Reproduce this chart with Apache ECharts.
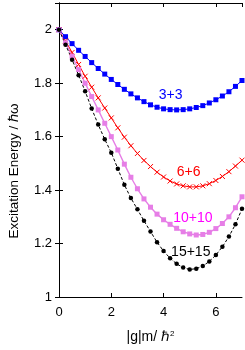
<!DOCTYPE html>
<html><head><meta charset="utf-8">
<script src="https://cdn.jsdelivr.net/npm/echarts@6/dist/echarts.min.js"></script>
<style>html,body{margin:0;padding:0;background:#fff}#c{width:245px;height:350px}</style>
</head><body><div id="c"></div>
<script>
var gValues = [0,0.25,0.5,0.75,1,1.25,1.5,1.75,2,2.25,2.5,2.75,3,3.25,3.5,3.75,4,4.25,4.5,4.75,5,5.25,5.5,5.75,6,6.25,6.5,6.75,7];
var e3 = [2.000,1.974,1.948,1.923,1.900,1.877,1.855,1.834,1.814,1.795,1.777,1.760,1.745,1.731,1.719,1.710,1.704,1.701,1.700,1.701,1.704,1.709,1.716,1.726,1.738,1.752,1.768,1.788,1.810];
var e6 = [2.000,1.958,1.915,1.870,1.826,1.785,1.745,1.707,1.670,1.633,1.598,1.566,1.537,1.511,1.488,1.467,1.449,1.434,1.423,1.416,1.412,1.412,1.416,1.424,1.436,1.451,1.469,1.490,1.512];
var e10 = [2.000,1.951,1.901,1.851,1.800,1.750,1.700,1.650,1.600,1.550,1.497,1.448,1.405,1.367,1.336,1.310,1.289,1.272,1.257,1.244,1.236,1.232,1.234,1.242,1.256,1.275,1.300,1.334,1.375];
var e15 = [2.000,1.944,1.888,1.830,1.770,1.705,1.645,1.590,1.540,1.480,1.420,1.370,1.328,1.285,1.245,1.205,1.172,1.145,1.124,1.110,1.103,1.106,1.116,1.133,1.157,1.188,1.226,1.272,1.330];
var seriesNames = ['3+3','6+6','10+10','15+15'];
var xTicks = [0,2,4,6];
var yTicks = [1,1.2,1.4,1.6,1.8,2];

function pairs(ys){ return gValues.map(function(x,i){ return [x, ys[i]]; }); }

var chart = echarts.init(document.getElementById('c'), null, {renderer:'canvas'});
var font = 'Liberation Sans, Arial, Helvetica, sans-serif';
var axisCommon = {
  axisLine:{show:true, lineStyle:{color:'#000', width:1}},
  axisTick:{show:true, inside:true, length:4, lineStyle:{color:'#000'}},
  splitLine:{show:false}
};
var option = {
  animation:false,
  grid:{left:59, right:3, top:3, bottom:53},
  xAxis:[
    Object.assign({type:'value', min:0, max:7, interval:2, position:'bottom',
      name:'|g|m/ ℏ{sup|2}', nameLocation:'middle', nameGap:33,
      nameTextStyle:{color:'#000', fontSize:14, fontFamily:font, rich:{sup:{fontSize:8, verticalAlign:'top', padding:[0,0,7,0], color:'#000', fontFamily:font}}},
      axisLabel:{color:'#000', fontSize:13, fontFamily:font, margin:9, showMaxLabel:false,
        formatter:function(v){ return xTicks.indexOf(v)>=0 ? String(v) : ''; }}}, axisCommon),
    Object.assign({type:'value', min:0, max:7, interval:2, position:'top', axisLabel:{show:false}}, axisCommon)
  ],
  yAxis:[
    Object.assign({type:'value', min:1, max:2.1, interval:0.2, position:'left',
      axisLabel:{color:'#000', fontSize:13, fontFamily:font, margin:7, showMaxLabel:false,
        formatter:function(v){ var r=Math.round(v*10)/10; return yTicks.indexOf(r)>=0 ? String(r) : ''; }}}, axisCommon),
    Object.assign({type:'value', min:1, max:2.1, interval:0.2, position:'right', axisLabel:{show:false}}, axisCommon)
  ],
  series:[
    {name:seriesNames[0], type:'line', data:pairs(e3), symbol:'rect', symbolSize:5,
      lineStyle:{color:'#0000ff', width:1}, itemStyle:{color:'#0000ff'}},
    {name:seriesNames[1], type:'line', data:pairs(e6), symbol:'path://M0,0L10,10M10,0L0,10', symbolSize:5,
      lineStyle:{color:'#ff0000', width:1}, itemStyle:{color:'#ff0000', borderColor:'#ff0000', borderWidth:1}},
    {name:seriesNames[2], type:'line', data:pairs(e10), symbol:'rect', symbolSize:5,
      lineStyle:{color:'#e67ee6', width:1.4}, itemStyle:{color:'#e67ee6'}},
    {name:seriesNames[3], type:'line', data:pairs(e15), symbol:'circle', symbolSize:4.5,
      lineStyle:{color:'#000', width:1, type:[3,2]}, itemStyle:{color:'#000'}}
  ]
};
chart.setOption(option);

// labels placed in data coordinates via the chart's own scales
var labelSpecs = [
  {name:seriesNames[0], at:[4.27,1.757], color:'#0000ff'},
  {name:seriesNames[1], at:[4.96,1.468], color:'#ff0000'},
  {name:seriesNames[2], at:[5.12,1.296], color:'#ff00ff'},
  {name:seriesNames[3], at:[5.04,1.169], color:'#000000'}
];
var graphics = labelSpecs.map(function(s){
  var p = chart.convertToPixel({xAxisIndex:0, yAxisIndex:0}, s.at);
  return {type:'text', x:p[0], y:p[1], z:100, style:{text:s.name, fill:s.color, font:'14px '+font, textAlign:'center', textVerticalAlign:'middle'}};
});
graphics.push({type:'text', x:14, y:171, rotation:Math.PI/2, z:100,
  style:{text:'Excitation Energy / ℏω', fill:'#000', font:'13.5px '+font, textAlign:'center', textVerticalAlign:'middle'}});
chart.setOption({graphic: graphics});
</script>
</body></html>
